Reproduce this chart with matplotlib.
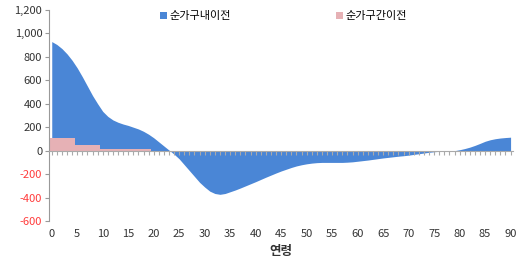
import numpy as np
import matplotlib.pyplot as plt
from matplotlib.ticker import FuncFormatter

plt.rcParams['font.family'] = ['Noto Sans CJK KR', 'DejaVu Sans']

# 연령 0~90
ages = np.arange(0, 91)

# 순가구내이전 (연령별)
within_hh = [930, 905, 870, 825, 770, 705, 630, 550, 470, 400,
             335, 292, 262, 242, 227, 215, 200, 185, 165, 140,
             110, 75, 40, 5, -30, -70, -120, -170, -220, -270,
             -310, -345, -365, -372, -365, -350, -335, -318, -300, -282,
             -264, -245, -226, -208, -190, -173, -158, -143, -130, -120,
             -112, -106, -102, -100, -100, -100, -100, -100, -98, -95,
             -90, -85, -80, -74, -68, -62, -57, -52, -47, -43,
             -38, -32, -26, -20, -14, -9, -6, -3, -1, 0,
             8, 18, 30, 45, 62, 80, 93, 102, 108, 112, 115]

# 순가구간이전 (연령별)
between_hh = ([105] * 5 + [48] * 5 + [17] * 5 + [12] * 5 + [-12] * 5
              + [-3] * 25 + [-12] * 25 + [-2] * 3 + [0] * 13)

y_ticks = [-600, -400, -200, 0, 200, 400, 600, 800, 1000, 1200]
x_ticks = list(range(0, 91, 5))

blue = '#4a86d6'
pink = '#e6b1b5'

fig = plt.figure(figsize=(5.29, 2.67), dpi=100)
ax = fig.add_axes([0.093, 0.172, 0.877, 0.791])

ax.fill_between(ages, within_hh, 0, color=blue, lw=0, label='순가구내이전')
ax.bar(ages, between_hh, width=1.0, color=pink, edgecolor='none', label='순가구간이전')

ax.set_xlim(-0.5, 90.5)
ax.set_ylim(-600, 1200)

# y axis
ax.set_yticks(y_ticks)
ax.yaxis.set_major_formatter(FuncFormatter(lambda v, p: f'{int(v):,}'))
ax.tick_params(axis='y', direction='out', length=3, width=0.8, color='#999999',
               labelsize=8, labelcolor='#333333', pad=2)
for lab, v in zip(ax.get_yticklabels(), y_ticks):
    if v < 0:
        lab.set_color('#ff3b3b')

# x axis line at zero with yearly ticks
ax.spines['bottom'].set_position(('data', 0))
ax.spines['bottom'].set_color('#aaaaaa')
ax.spines['left'].set_color('#999999')
ax.spines['top'].set_visible(False)
ax.spines['right'].set_visible(False)
ax.set_xticks(ages)
ax.tick_params(axis='x', direction='out', length=3, width=0.8, color='#aaaaaa',
               labelbottom=False)

# labels at bottom of the plot
sec = ax.secondary_xaxis(0)
sec.set_xticks(x_ticks)
sec.tick_params(length=0, labelsize=8, labelcolor='#333333', pad=6)
sec.spines['bottom'].set_visible(False)
sec.set_xlabel('연령', fontsize=9, fontweight='bold', color='#333333', labelpad=4)

ax.legend(loc='upper center', bbox_to_anchor=(0.505, 1.04), ncol=2, frameon=False,
          fontsize=8, handlelength=0.6, handleheight=0.6, handletextpad=0.2,
          columnspacing=9.5)

fig.savefig('out.png', dpi=100)
